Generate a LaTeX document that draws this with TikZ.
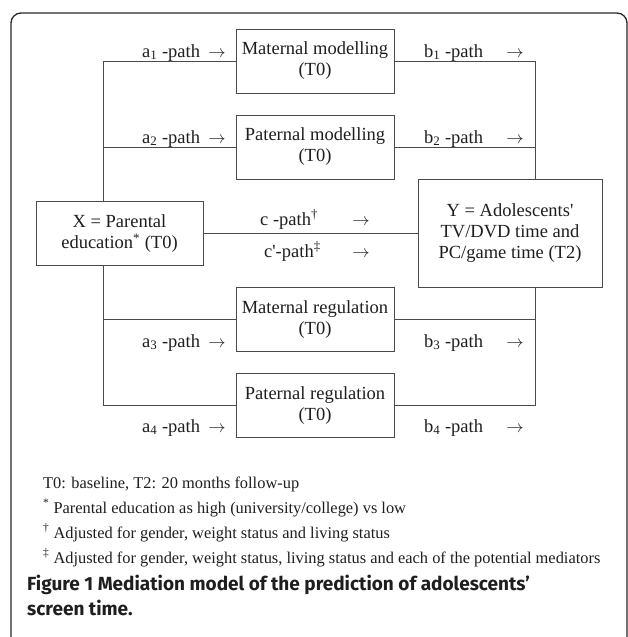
\documentclass[tikz,border=0pt]{standalone}
\usepackage{fontspec}
\setmainfont{Liberation Serif}
\newfontfamily\capfont{Fira Sans}
\definecolor{ink}{HTML}{1E1E1E}
\definecolor{edge}{HTML}{4A4A4A}
\begin{document}
\begin{tikzpicture}[x=1pt,y=-1pt,
  box/.style={draw=edge, line width=0.9pt, minimum width=158pt, minimum height=64pt, inner sep=0pt, align=center, text=ink, font=\fontsize{18.5}{21}\selectfont},
  lbl/.style={anchor=base west, text=ink, inner sep=0pt, font=\fontsize{18.5}{21}\selectfont},
  arr/.style={anchor=base, text=ink, inner sep=0pt, font=\fontsize{18.3}{21}\selectfont},
  conn/.style={draw=edge, line width=0.9pt},
  note/.style={anchor=base west, inner sep=0pt, text=ink, font=\fontsize{16.4}{20}\selectfont},
  captext/.style={anchor=base west, inner sep=0pt, text=ink, font=\capfont\bfseries\fontsize{19}{23}\selectfont}]
\useasboundingbox (0,0) rectangle (628,637);
\begin{scope}
\clip (0,0) rectangle (628,637);
\draw[line width=1.3pt, rounded corners=10pt, draw=black!85] (11,13) rectangle (627,690);
\end{scope}

\node[box] (mm) at (315,61) {Maternal modelling\\(T0)};
\node[box] (pm) at (315,147) {Paternal modelling\\(T0)};
\node[box] (mr) at (315,319.5) {Maternal regulation\\(T0)};
\node[box] (pr) at (315,405.5) {Paternal regulation\\(T0)};
\node[box, minimum width=167pt] (X) at (119.5,233.5) {X = Parental\\education\textsuperscript{*} (T0)};
\node[box, minimum width=184pt, minimum height=108pt] (Y) at (510,233.5) {Y = Adolescents\textquotesingle\\TV/DVD time and\\PC/game time (T2)};

\coordinate (l1) at (103,61);
\coordinate (l4) at (103,405.5);
\coordinate (r1) at (535,61);
\coordinate (r4) at (535,405.5);

\draw[conn] (mm.west) -- (l1) -- (X.north -| l1);
\draw[conn] (pm.west) -- (pm.west -| l1);
\draw[conn] (X.south -| l1) -- (l4) -- (pr.west);
\draw[conn] (mr.west) -- (mr.west -| l1);
\draw[conn] (mm.east) -- (r1) -- (Y.north -| r1);
\draw[conn] (pm.east) -- (pm.east -| r1);
\draw[conn] (Y.south -| r1) -- (r4) -- (pr.east);
\draw[conn] (mr.east) -- (mr.east -| r1);
\draw[conn] (X.east) -- (Y.west);

\node[lbl] (a1) at (142,57) {a\textsubscript{1} -path};
\node[arr] (a1x) at (217,57) {$\rightarrow$};
\node[lbl] (b1) at (424,57) {b\textsubscript{1} -path};
\node[arr] (b1x) at (515,57) {$\rightarrow$};
\node[lbl] (a2) at (142,143) {a\textsubscript{2} -path};
\node[arr] (a2x) at (217,143) {$\rightarrow$};
\node[lbl] (b2) at (424,143) {b\textsubscript{2} -path};
\node[arr] (b2x) at (515,143) {$\rightarrow$};
\node[lbl] (c) at (260,225) {c -path\textsuperscript{\dag}};
\node[arr] (cx) at (361,225) {$\rightarrow$};
\node[lbl] (cp) at (264,257) {c\textquotesingle-path\textsuperscript{\ddag}};
\node[arr] (cpx) at (361,257) {$\rightarrow$};
\node[lbl] (a3) at (142,347) {a\textsubscript{3} -path};
\node[arr] (a3x) at (217,347) {$\rightarrow$};
\node[lbl] (b3) at (424,347) {b\textsubscript{3} -path};
\node[arr] (b3x) at (515,347) {$\rightarrow$};
\node[lbl] (a4) at (142,432) {a\textsubscript{4} -path};
\node[arr] (a4x) at (217,432) {$\rightarrow$};
\node[lbl] (b4) at (424,432) {b\textsubscript{4} -path};
\node[arr] (b4x) at (515,432) {$\rightarrow$};

\node[note] (n0) at (43,488) {T0: baseline, T2: 20 months follow-up};
\node[note] (n1) at (43,513) {\textsuperscript{*} Parental education as high (university/college) vs low};
\node[note] (n2) at (43,538) {\textsuperscript{\dag} Adjusted for gender, weight status and living status};
\node[note] (n3) at (43,563) {\textsuperscript{\ddag} Adjusted for gender, weight status, living status and each of the potential mediators};
\node[captext] (c1) at (27,590) {Figure 1 Mediation model of the prediction of adolescents’};
\node[captext] (c2) at (27,615) {screen time.};
\end{tikzpicture}
\end{document}
